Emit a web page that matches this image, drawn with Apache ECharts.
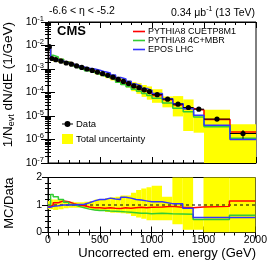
<!DOCTYPE html>
<html><head><meta charset="utf-8">
<script src="https://cdn.jsdelivr.net/npm/echarts@6/dist/echarts.min.js"></script>
<style>html,body{margin:0;padding:0;background:#fff}#c{width:270px;height:260px}</style>
</head><body><div id="c"></div>
<script>
// Bin edges (GeV)
const edges = [0,25,50,100,150,200,250,300,350,400,450,500,550,600,650,700,750,800,850,900,950,1000,1100,1200,1300,1400,1500,1750,2000];
// Data 1/N dN/dE (1/GeV)
const dataVals = [8.9e-3,2.8e-3,2.5e-3,2.15e-3,1.8e-3,1.6e-3,1.35e-3,1.17e-3,1.0e-3,8.7e-4,7.4e-4,6.3e-4,5.4e-4,4.5e-4,3.6e-4,2.95e-4,2.4e-4,1.9e-4,1.6e-4,1.3e-4,1.1e-4,8.1e-5,5.2e-5,3.2e-5,2.3e-5,1.95e-5,7.4e-6,1.8e-6];
const dataErr = [0.01,0.01,0.01,0.01,0.01,0.01,0.01,0.01,0.01,0.01,0.01,0.01,0.01,0.02,0.02,0.02,0.02,0.03,0.03,0.03,0.04,0.04,0.05,0.07,0.08,0.1,0.15,0.4];
// MC / Data ratios
const ratioCUETP8M1 = [0.95,1.0,1.08,1.15,1.12,1.05,1.0,0.97,0.93,0.9,0.9,0.88,0.9,0.88,0.87,0.9,0.88,0.9,0.92,0.9,0.92,0.93,0.95,0.92,0.9,0.93,0.95,1.15];
const ratioMBR = [1.0,1.38,1.3,1.2,1.1,1.02,0.95,0.9,0.85,0.82,0.8,0.8,0.78,0.77,0.76,0.75,0.74,0.72,0.7,0.7,0.68,0.7,0.68,0.67,0.66,0.47,0.47,0.63];
const ratioEPOS = [0.92,0.95,0.97,1.0,1.0,1.0,1.02,1.03,1.08,1.15,1.2,1.2,1.25,1.22,1.2,1.28,1.25,1.2,1.18,1.15,1.12,1.12,1.05,1.05,0.88,0.55,0.55,0.55];
// Total uncertainty band (relative, lower / upper)
const bandLo = [0.85,0.85,0.82,0.85,0.88,0.9,0.9,0.9,0.88,0.85,0.8,0.78,0.75,0.72,0.72,0.7,0.68,0.6,0.55,0.5,0.45,0.45,0.45,0.3,0.1,0.1,0.0,0.0];
const bandHi = [1.15,1.2,1.2,1.18,1.15,1.12,1.1,1.1,1.12,1.15,1.2,1.22,1.25,1.28,1.3,1.35,1.35,1.45,1.55,1.6,1.65,1.7,1.3,2.2,2.2,0.5,2.5,2.5];
const xTicks = [0,500,1000,1500,2000];

const FONT = 'Liberation Sans, Arial, Helvetica, sans-serif';
const n = dataVals.length;
const RED='#ff0000', GREEN='#33cc33', BLUE='#3333ff', YEL='#ffff00';

function stepPts(vals){ const p=[]; for(let i=0;i<=n;i++){ p.push([edges[i], vals[Math.min(i,n-1)]]); } return p; }
const mcCUETP = ratioCUETP8M1.map((r,i)=>r*dataVals[i]);
const mcMBR = ratioMBR.map((r,i)=>r*dataVals[i]);
const mcEPOS = ratioEPOS.map((r,i)=>r*dataVals[i]);

const bandTop = dataVals.map((v,i)=>[edges[i],edges[i+1],Math.max(v*bandLo[i],1e-8),v*bandHi[i]]);
const bandRat = dataVals.map((v,i)=>[edges[i],edges[i+1],bandLo[i],bandHi[i]]);
const dataPts = dataVals.map((v,i)=>[edges[i],edges[i+1],v,dataErr[i]]);

function bandRender(params, api){
  const p0 = api.coord([api.value(0), api.value(3)]);
  const p1 = api.coord([api.value(1), api.value(2)]);
  return {type:'rect', shape:{x:p0[0], y:p0[1], width:p1[0]-p0[0], height:p1[1]-p0[1]}, style:{fill:YEL, stroke:null}};
}
function dataRender(params, api){
  const x0=api.value(0), x1=api.value(1), v=api.value(2), e=api.value(3);
  const xc=(x0+x1)/2;
  const a=api.coord([x0,v]), b=api.coord([x1,v]), c=api.coord([xc,v]);
  const up=api.coord([xc,v*(1+e)]), dn=api.coord([xc,v*(1-e)]);
  return {type:'group', children:[
    {type:'line', shape:{x1:a[0],y1:a[1],x2:b[0],y2:b[1]}, style:{stroke:'#000',lineWidth:1}},
    {type:'line', shape:{x1:up[0],y1:up[1],x2:dn[0],y2:dn[1]}, style:{stroke:'#000',lineWidth:1}},
    {type:'circle', shape:{cx:c[0],cy:c[1],r:2.6}, style:{fill:'#000'}}
  ]};
}
function lineSeries(name, vals, color, xi, yi){
  return {name, type:'line', step:'end', data:stepPts(vals), xAxisIndex:xi, yAxisIndex:yi,
    showSymbol:false, symbol:'none', lineStyle:{color, width:1.5}, itemStyle:{color}, z:5, animation:false};
}
const logLabel = v => { const e=Math.round(Math.log10(v)); return '{b|10}{s|'+e+'}'; };
const tickCommon = {inside:true, length:6, lineStyle:{color:'#000'}};
const minorCommon = {show:true, length:3, lineStyle:{color:'#000'}};

const chart = echarts.init(document.getElementById('c'), null, {renderer:'canvas'});
const grid0 = {left:48, right:14, top:22, height:141, show:true, borderColor:'#000', borderWidth:1, backgroundColor:'transparent'};
const grid1 = {left:48, right:14, top:177.5, height:55, show:true, borderColor:'#000', borderWidth:1, backgroundColor:'transparent'};

const xBase = {type:'value', min:0, max:2000, interval:500, splitNumber:4, splitLine:{show:false},
  axisLine:{show:true, lineStyle:{color:'#000'}}, axisTick:tickCommon, minorTick:Object.assign({splitNumber:5},minorCommon), minorSplitLine:{show:false}};

const option = {
  animation:false,
  textStyle:{fontFamily:FONT},
  grid:[grid0, grid1],
  xAxis:[
    Object.assign({}, xBase, {gridIndex:0, axisLabel:{show:false}}),
    Object.assign({}, xBase, {gridIndex:0, position:'top', axisLabel:{show:false}}),
    Object.assign({}, xBase, {gridIndex:1, axisLabel:{show:true, color:'#000', fontSize:10.5, fontFamily:FONT, margin:2,
      formatter: v => xTicks.indexOf(v)>=0 ? String(v) : ''}}),
    Object.assign({}, xBase, {gridIndex:1, position:'top', axisLabel:{show:false}})
  ],
  yAxis:[
    {gridIndex:0, type:'log', min:1e-7, max:1e-1, logBase:10, splitLine:{show:false},
      axisLine:{show:true,lineStyle:{color:'#000'}}, axisTick:Object.assign({},tickCommon,{length:7}), minorTick:Object.assign({splitNumber:9},minorCommon),
      axisLabel:{color:'#000', margin:4, formatter:logLabel, rich:{b:{fontSize:10.5,fontFamily:FONT,color:'#000'}, s:{fontSize:7.5,fontFamily:FONT,color:'#000',padding:[0,0,7,0]}}}},
    {gridIndex:0, type:'log', min:1e-7, max:1e-1, logBase:10, position:'right', splitLine:{show:false},
      axisLine:{show:true,lineStyle:{color:'#000'}}, axisTick:Object.assign({},tickCommon,{length:7}), minorTick:Object.assign({splitNumber:9},minorCommon), axisLabel:{show:false}},
    {gridIndex:1, type:'value', min:0, max:2, interval:1, splitLine:{show:false},
      axisLine:{show:true,lineStyle:{color:'#000'}}, axisTick:tickCommon, minorTick:Object.assign({splitNumber:5},minorCommon),
      axisLabel:{color:'#000', fontSize:10.5, fontFamily:FONT, margin:6}},
    {gridIndex:1, type:'value', min:0, max:2, interval:1, position:'right', splitLine:{show:false},
      axisLine:{show:true,lineStyle:{color:'#000'}}, axisTick:tickCommon, minorTick:Object.assign({splitNumber:5},minorCommon), axisLabel:{show:false}}
  ],
  legend:[
    {orient:'vertical', left:133, top:27, itemWidth:12, itemHeight:10, itemGap:0, padding:0,
      textStyle:{fontSize:9, fontFamily:FONT, color:'#000', padding:[0,0,0,-2]},
      data:[
        {name:'PYTHIA8 CUETP8M1', icon:'path://M0,4.2H12V5.8H0Z'},
        {name:'PYTHIA8 4C+MBR', icon:'path://M0,4.2H12V5.8H0Z'},
        {name:'EPOS LHC', icon:'path://M0,4.2H12V5.8H0Z'}]},
    {orient:'vertical', left:62, top:119, itemWidth:11, itemHeight:10, itemGap:5, padding:0,
      textStyle:{fontSize:9.5, fontFamily:FONT, color:'#000', padding:[0,0,0,-2]},
      data:[
        {name:'Data', icon:'path://M0,4.5H10V5.5H0Z M5,2.3A2.7,2.7 0 1,1 4.99,2.3Z', itemStyle:{color:'#000'}},
        {name:'Total uncertainty', icon:'rect', itemStyle:{color:YEL}}]}
  ],
  graphic:[
    {type:'text', left:49, top:6, style:{text:'-6.6 < η < -5.2', font:'10.5px '+FONT, fill:'#000'}},
    {type:'text', right:15, top:6, style:{text:'0.34 μb{s|-1} (13 TeV)', font:'10.5px '+FONT, fill:'#000', rich:{s:{fontSize:7,fontFamily:FONT,padding:[0,0,7,0]}}}},
    {type:'text', left:57, top:25, style:{text:'CMS', font:'bold 13px '+FONT, fill:'#000'}},
    {type:'text', x:8, y:22, rotation:Math.PI/2, style:{text:'1/N{sub|evt} dN/dE (1/GeV)', font:'13.5px '+FONT, fill:'#000', align:'right', verticalAlign:'middle',
      rich:{sub:{fontSize:9,fontFamily:FONT,padding:[7,0,0,0]}}}},
    {type:'text', x:9, y:177.5, rotation:Math.PI/2, style:{text:'MC/Data', font:'13px '+FONT, fill:'#000', align:'right', verticalAlign:'middle'}},
    {type:'text', x:256, y:253, style:{text:'Uncorrected em. energy (GeV)', font:'13px '+FONT, fill:'#000', align:'right', verticalAlign:'middle'}}
  ],
  series:[
    {name:'Total uncertainty', type:'custom', xAxisIndex:0, yAxisIndex:0, data:bandTop, renderItem:bandRender, clip:true, z:1, itemStyle:{color:YEL}},
    lineSeries('PYTHIA8 CUETP8M1', mcCUETP, RED, 0, 0),
    lineSeries('PYTHIA8 4C+MBR', mcMBR, GREEN, 0, 0),
    lineSeries('EPOS LHC', mcEPOS, BLUE, 0, 0),
    {name:'Data', type:'custom', xAxisIndex:0, yAxisIndex:0, data:dataPts, renderItem:dataRender, clip:true, z:10, itemStyle:{color:'#000'}},
    {name:'bandRatio', type:'custom', xAxisIndex:2, yAxisIndex:2, data:bandRat, renderItem:bandRender, clip:true, z:1},
    {name:'one', type:'line', xAxisIndex:2, yAxisIndex:2, data:[[0,1],[2000,1]], showSymbol:false, symbol:'none', lineStyle:{color:'#000', width:1, type:[3,3]}, z:4},
    lineSeries('r1', ratioCUETP8M1, RED, 2, 2),
    lineSeries('r2', ratioMBR, GREEN, 2, 2),
    lineSeries('r3', ratioEPOS, BLUE, 2, 2)
  ]
};
chart.setOption(option);
</script></body></html>
